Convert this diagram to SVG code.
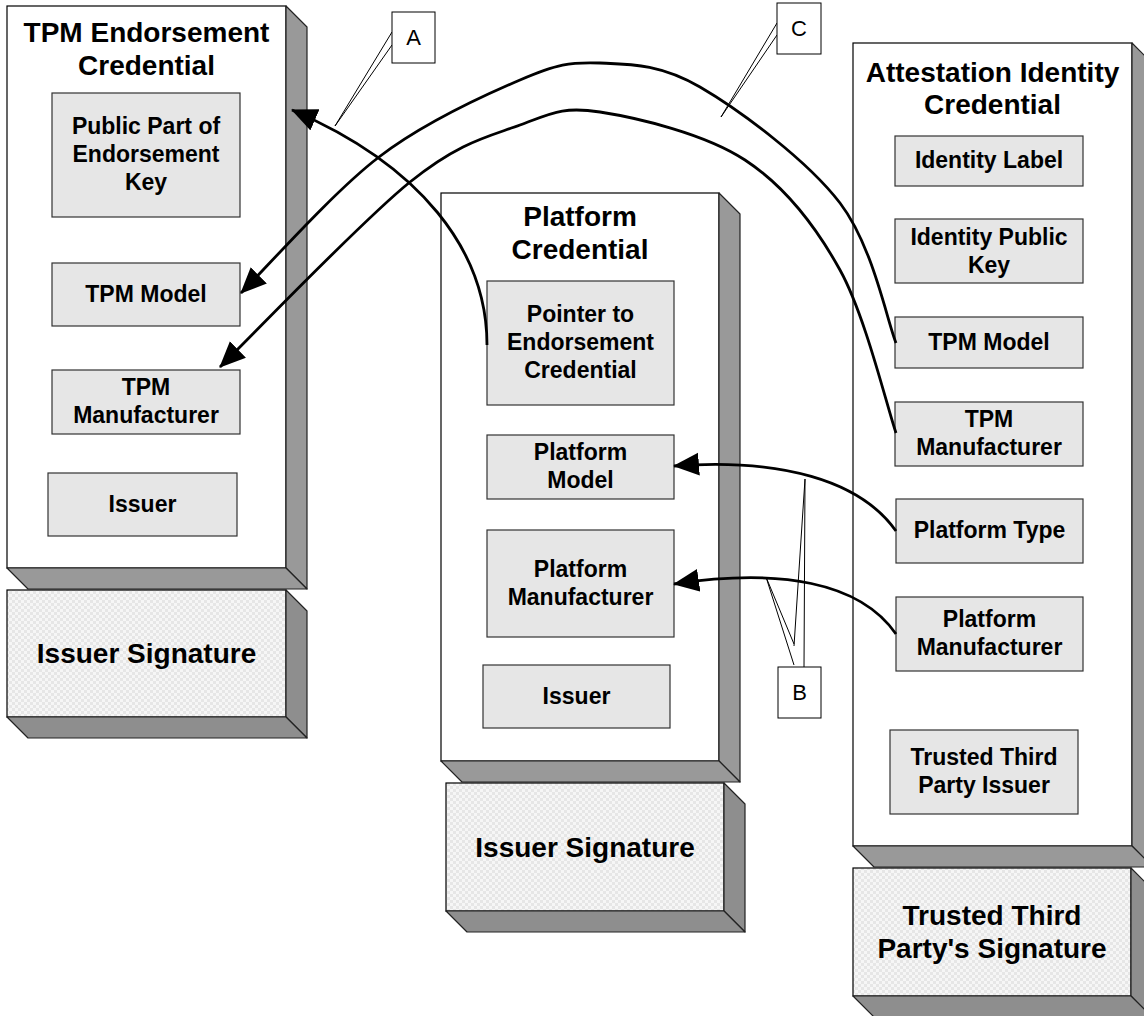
<svg xmlns="http://www.w3.org/2000/svg" width="1144" height="1016" viewBox="0 0 1144 1016">
<defs>
<pattern id="chk" width="6" height="6" patternUnits="userSpaceOnUse">
<rect width="6" height="6" fill="#f6f6f6"/>
<rect width="3" height="3" fill="#e6e6e6"/>
<rect x="3" y="3" width="3" height="3" fill="#e6e6e6"/>
</pattern>
<marker id="arr" markerUnits="userSpaceOnUse" markerWidth="28" markerHeight="24" refX="25" refY="11.5" orient="auto" viewBox="0 0 28 24">
<path d="M0,0 L26,11.5 L0,23 z" fill="#000"/>
</marker>
<style>
.front{fill:#fff;stroke:#000;stroke-width:1.2}
.side{fill:#999;stroke:#222;stroke-width:1.2;stroke-linejoin:round}
.sside{fill:#8e8e8e;stroke:#222;stroke-width:1.2;stroke-linejoin:round}
.sig{fill:url(#chk);stroke:#000;stroke-width:1.2}
.inner{fill:#e6e6e6;stroke:#333;stroke-width:1.2}
.t{font-family:"Liberation Sans",Arial,sans-serif;font-weight:bold;fill:#000;text-anchor:middle}
.title{font-size:28px}
.it{font-size:23px}
.lbl{font-family:"Liberation Sans",Arial,sans-serif;font-size:22px;fill:#000;text-anchor:middle}
.box{fill:#fff;stroke:#000;stroke-width:1}
.lead{fill:none;stroke:#000;stroke-width:1}
.conn{fill:none;stroke:#000;stroke-width:2.8;marker-end:url(#arr)}
</style>
</defs>
<rect width="1144" height="1016" fill="#fff"/>

<g id="tpm-ec">
<rect class="front" x="7" y="6" width="279" height="562"/>
<polygon class="side" points="286,6 307,27 307,589 286,568"/>
<polygon class="side" points="7,568 286,568 307,589 28,589"/>
<text class="t title" x="146.5" y="42">TPM Endorsement</text>
<text class="t title" x="146.5" y="75">Credential</text>
</g>
<g id="tpm-ec-pubkey">
<rect class="inner" x="52" y="93" width="188" height="124"/>
<text class="t it" x="146" y="134">Public Part of</text>
<text class="t it" x="146" y="162">Endorsement</text>
<text class="t it" x="146" y="190">Key</text>
</g>
<g id="tpm-ec-model">
<rect class="inner" x="52" y="263" width="188" height="63"/>
<text class="t it" x="146" y="302">TPM Model</text>
</g>
<g id="tpm-ec-mfr">
<rect class="inner" x="52" y="370" width="188" height="64"/>
<text class="t it" x="146" y="395">TPM</text>
<text class="t it" x="146" y="423">Manufacturer</text>
</g>
<g id="tpm-ec-issuer">
<rect class="inner" x="48" y="473" width="189" height="63"/>
<text class="t it" x="142.5" y="512">Issuer</text>
</g>
<g id="tpm-ec-sig">
<rect class="sig" x="7" y="590" width="279" height="127"/>
<polygon class="sside" points="286,590 307,611 307,738 286,717"/>
<polygon class="sside" points="7,717 286,717 307,738 28,738"/>
<text class="t title" x="146.5" y="663">Issuer Signature</text>
</g>

<g id="platform">
<rect class="front" x="441" y="193" width="278" height="568"/>
<polygon class="side" points="719,193 740,214 740,782 719,761"/>
<polygon class="side" points="441,761 719,761 740,782 462,782"/>
<text class="t title" x="580" y="226">Platform</text>
<text class="t title" x="580" y="259">Credential</text>
</g>
<g id="platform-pointer">
<rect class="inner" x="487" y="281" width="187" height="124"/>
<text class="t it" x="580.5" y="322">Pointer to</text>
<text class="t it" x="580.5" y="350">Endorsement</text>
<text class="t it" x="580.5" y="378">Credential</text>
</g>
<g id="platform-model">
<rect class="inner" x="487" y="435" width="187" height="64"/>
<text class="t it" x="580.5" y="460">Platform</text>
<text class="t it" x="580.5" y="488">Model</text>
</g>
<g id="platform-mfr">
<rect class="inner" x="487" y="530" width="187" height="107"/>
<text class="t it" x="580.5" y="577">Platform</text>
<text class="t it" x="580.5" y="605">Manufacturer</text>
</g>
<g id="platform-issuer">
<rect class="inner" x="483" y="665" width="187" height="63"/>
<text class="t it" x="576.5" y="704">Issuer</text>
</g>
<g id="platform-sig">
<rect class="sig" x="446" y="783" width="278" height="128"/>
<polygon class="sside" points="724,783 745,804 745,932 724,911"/>
<polygon class="sside" points="446,911 724,911 745,932 467,932"/>
<text class="t title" x="585" y="857">Issuer Signature</text>
</g>

<g id="aic">
<rect class="front" x="853" y="43" width="279" height="803"/>
<polygon class="side" points="1132,43 1153,64 1153,867 1132,846"/>
<polygon class="side" points="853,846 1132,846 1153,867 874,867"/>
<text class="t title" x="992.5" y="82">Attestation Identity</text>
<text class="t title" x="992.5" y="114">Credential</text>
</g>
<g id="aic-label">
<rect class="inner" x="895" y="136" width="188" height="50"/>
<text class="t it" x="989" y="168">Identity Label</text>
</g>
<g id="aic-pubkey">
<rect class="inner" x="895" y="219" width="188" height="64"/>
<text class="t it" x="989" y="245">Identity Public</text>
<text class="t it" x="989" y="273">Key</text>
</g>
<g id="aic-model">
<rect class="inner" x="895" y="317" width="188" height="51"/>
<text class="t it" x="989" y="350">TPM Model</text>
</g>
<g id="aic-mfr">
<rect class="inner" x="895" y="402" width="188" height="64"/>
<text class="t it" x="989" y="427">TPM</text>
<text class="t it" x="989" y="455">Manufacturer</text>
</g>
<g id="aic-ptype">
<rect class="inner" x="896" y="499" width="187" height="64"/>
<text class="t it" x="989.5" y="538">Platform Type</text>
</g>
<g id="aic-pmfr">
<rect class="inner" x="896" y="597" width="187" height="74"/>
<text class="t it" x="989.5" y="627">Platform</text>
<text class="t it" x="989.5" y="655">Manufacturer</text>
</g>
<g id="aic-issuer">
<rect class="inner" x="890" y="730" width="188" height="84"/>
<text class="t it" x="984" y="765">Trusted Third</text>
<text class="t it" x="984" y="793">Party Issuer</text>
</g>
<g id="aic-sig">
<rect class="sig" x="853" y="868" width="278" height="128"/>
<polygon class="sside" points="1131,868 1152,889 1152,1017 1131,996"/>
<polygon class="sside" points="853,996 1131,996 1152,1017 874,1017"/>
<text class="t title" x="992" y="925">Trusted Third</text>
<text class="t title" x="992" y="958">Party's Signature</text>
</g>

<g id="callout-a">
<polyline class="lead" points="392,32 335,126 392,45"/>
<rect class="box" x="392" y="12" width="43" height="51"/>
<text class="lbl" x="413.5" y="45">A</text>
</g>
<g id="callout-c">
<polyline class="lead" points="777,23 721,117 777,35"/>
<rect class="box" x="777" y="3" width="44" height="51"/>
<text class="lbl" x="799" y="36">C</text>
</g>
<g id="callout-b">
<polyline class="lead" points="804,667 805,479 794,646"/>
<polyline class="lead" points="794,644 766,577 794,665"/>
<rect class="box" x="778" y="667" width="43" height="51"/>
<text class="lbl" x="799.5" y="700">B</text>
</g>

<g id="connectors">
<path class="conn" d="M487,345 C487,250 420,165 292,110"/>
<path class="conn" d="M896,343 C886.7,319.7 872.7,245.7 840,203 C807.3,160.3 740,110.3 700,87 C660,63.7 630,64.2 600,63 C570,61.8 556.8,64.3 520,80 C483.2,95.7 425.5,121.5 379,157 C332.5,192.5 264,270.3 241,293"/>
<path class="conn" d="M896,433 C886.7,405.8 865.2,315.5 840,270 C814.8,224.5 785,186.3 745,160 C705,133.7 637.5,117.8 600,112 C562.5,106.2 551.7,113.3 520,125 C488.3,136.7 460,141.7 410,182 C360,222.3 251.7,336.2 220,367"/>
<path class="conn" d="M896,531 C860,480 780,458 674,466"/>
<path class="conn" d="M896,634 C860,582 780,568 674,584"/>
</g>
</svg>
